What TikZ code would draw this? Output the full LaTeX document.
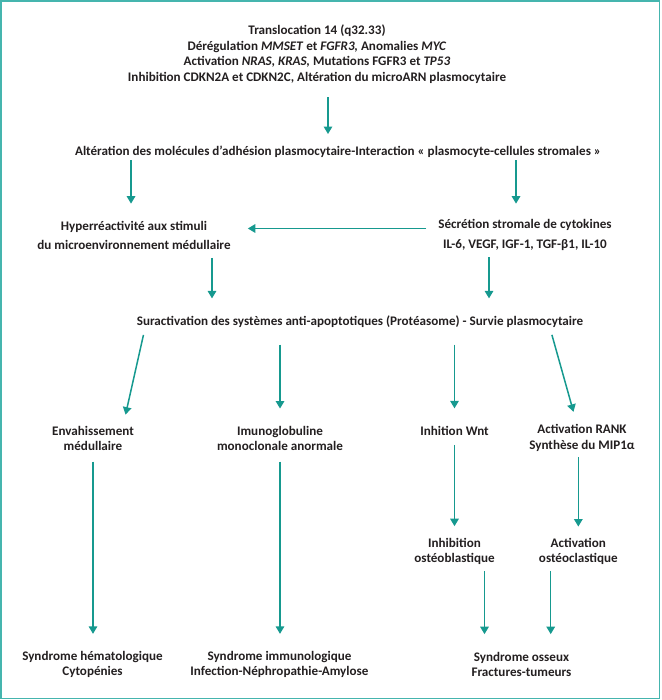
\documentclass[tikz,border=0pt]{standalone}
\usepackage{fontspec}
\setsansfont{Carlito}
\usetikzlibrary{arrows.meta, calc}
\definecolor{c1}{HTML}{231F20}
\definecolor{c2}{HTML}{16998F}
\definecolor{c3}{HTML}{45B5AE}

\begin{document}
\begin{tikzpicture}[
    x=1pt, y=-1pt,
    every node/.style={font=\sffamily\bfseries\fontsize{13.1}{15.6}\selectfont, text=c1},
    txt/.style={align=center, inner sep=0pt},
    wide/.style={txt, font=\sffamily\bfseries\fontsize{13.1}{19}\selectfont},
    arr/.style={draw=c2, line width=1.5pt, -{Triangle[width=8.5pt, length=7.5pt]}},
]

% ---------------------------------------------------------------- frame
\useasboundingbox (0,0) rectangle (661,700);
\draw[c3, line width=1.6pt] (1.2,1.2) rectangle (659.3,698.6);

% ---------------------------------------------------------------- the nodes
\node[txt] (top) at (317, 54) {Translocation 14 (q32.33)\\
    Dérégulation \textit{MMSET} et \textit{FGFR3,} Anomalies \textit{MYC}\\
    Activation \textit{NRAS, KRAS,} Mutations FGFR3 et \textit{TP53}\\
    Inhibition CDKN2A et CDKN2C, Altération du microARN plasmocytaire};
\node[txt] (alt) at (338, 152) {Altération des molécules d’adhésion plasmocytaire-Interaction « plasmocyte-cellules stromales »};
\node[wide] (hyper) at (134, 235) {Hyperréactivité aux stimuli\\du microenvironnement médullaire};
\node[wide, font=\sffamily\bfseries\fontsize{13.1}{20}\selectfont] (secr) at (525, 235) {Sécrétion stromale de cytokines\\IL-6, VEGF, IGF-1, TGF-β1, IL-10};
\node[txt] (surv) at (360, 322) {Suractivation des systèmes anti-apoptotiques (Protéasome) - Survie plasmocytaire};

\node[txt] (envah) at (93, 438.5) {Envahissement\\médullaire};
\node[txt] (immuno) at (280, 438.5) {Imunoglobuline\\monoclonale anormale};
\node[txt] (wnt) at (454.5, 430.5) {Inhition Wnt};
\node[txt] (rank) at (582, 438) {Activation RANK\\Synthèse du MIP1α};
\node[txt] (oblast) at (454.5, 551.5) {Inhibition\\ostéoblastique};
\node[txt] (oclast) at (578.3, 551.5) {Activation\\ostéoclastique};

\node[txt] (synhem) at (92.5, 664.5) {Syndrome hématologique\\Cytopénies};
\node[txt] (synimm) at (279.5, 664.5) {Syndrome immunologique\\Infection-Néphropathie-Amylose};
\node[txt] (synoss) at (521.5, 664.5) {Syndrome osseux\\Fractures-tumeurs};

% ---------------------------------------------------------------- the arrows
\draw[arr, shorten <=14pt, shorten >=12pt] ([xshift=11pt]top.south) -- ([xshift=11pt]top.south |- alt.north);
\draw[arr, shorten <=2.5pt, shorten >=17pt] ([xshift=-3pt]hyper.north |- alt.south) -- ([xshift=-3pt]hyper.north);
\draw[arr, shorten <=2.5pt, shorten >=15.5pt] ([xshift=-9pt]secr.north |- alt.south) -- ([xshift=-9pt]secr.north);
\draw[arr, shorten <=12pt, shorten >=17pt] ([yshift=6.5pt]secr.west) -- ([yshift=6.5pt]secr.west -| hyper.east);

\draw[arr, shorten <=8.5pt, shorten >=17.5pt] ([xshift=78pt]hyper.south) -- ([xshift=78pt]hyper.south |- surv.north);
\draw[arr, shorten <=6.5pt, shorten >=17.5pt] ([xshift=-36pt]secr.south) -- ([xshift=-36pt]secr.south |- surv.north);

\draw[arr, shorten <=7pt, shorten >=11.5pt] ([xshift=-215pt]surv.south) -- ([xshift=30pt]envah.north);
\draw[arr, shorten <=16.5pt, shorten >=17.3pt] (immuno.north |- surv.south) -- (immuno.north);
\draw[arr, shorten <=16.5pt, shorten >=17.3pt] (wnt.north |- surv.south) -- (wnt.north);
\draw[arr, shorten <=7pt, shorten >=13pt] ([xshift=190pt]surv.south) -- ([xshift=-5pt]rank.north);

\draw[arr, shorten <=10.5pt, shorten >=17pt] (envah.south) -- (envah.south |- synhem.north);
\draw[arr, shorten <=10.5pt, shorten >=17pt] (immuno.south) -- (immuno.south |- synimm.north);
\draw[arr, shorten <=9.5pt, shorten >=11.7pt] (wnt.south) -- (wnt.south |- oblast.north);
\draw[arr, shorten <=5.7pt, shorten >=11.3pt] (oclast.north |- rank.south) -- (oclast.north);

\draw[arr, shorten <=5.7pt, shorten >=17.7pt] ([xshift=30pt]oblast.south) -- ([xshift=30pt]oblast.south |- synoss.north);
\draw[arr, shorten <=5.7pt, shorten >=17.7pt] ([xshift=-27.6pt]oclast.south) -- ([xshift=-27.6pt]oclast.south |- synoss.north);

\end{tikzpicture}
\end{document}
